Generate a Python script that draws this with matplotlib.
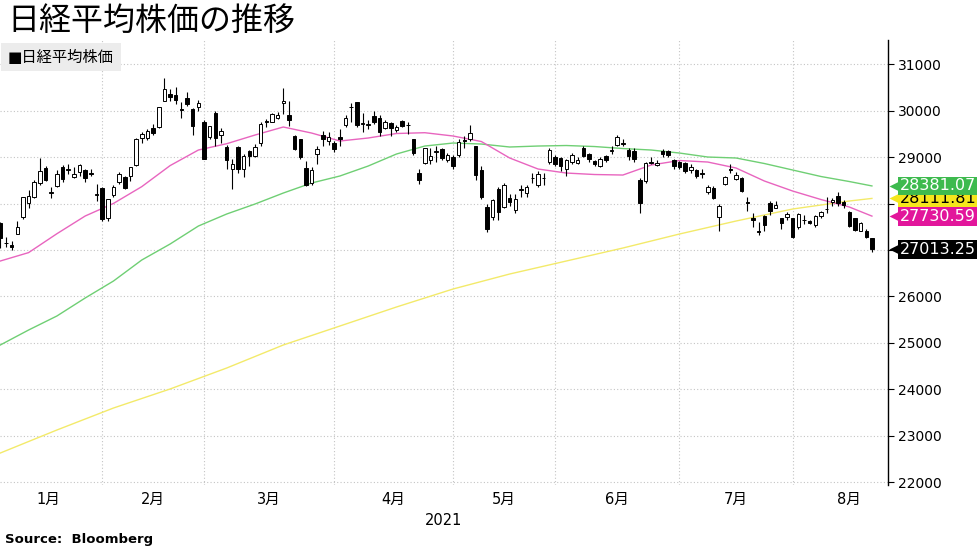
"""日経平均株価の推移 (ローソク足 + 移動平均)"""

import matplotlib
matplotlib.use("Agg")
import matplotlib.pyplot as plt
import matplotlib.transforms as mtransforms
import numpy as np
import pandas as pd

plt.rcParams["font.family"] = ["DejaVu Sans", "Noto Sans CJK JP"]
plt.rcParams["axes.unicode_minus"] = False

# 営業日 (2021/1/4 - 2021/8/20, 東証休場日を除く)
holidays = ["2021-01-11", "2021-02-11", "2021-02-23", "2021-04-29", "2021-05-03",
            "2021-05-04", "2021-05-05", "2021-07-22", "2021-07-23", "2021-08-09"]
dates = pd.bdate_range("2021-01-04", "2021-08-20")
dates = dates[~dates.isin(pd.to_datetime(holidays))]

# 四本値 (チャートから読み取り)
opens = [27575, 27151, 27102, 27340, 27720, 28004, 28140, 28442, 28777, 28238,
         28371, 28790, 28724, 28580, 28690, 28724, 28660, 28190, 28330, 27700,
         28185, 28472, 28567, 28595, 28832, 29407, 29407, 29623, 29657, 30217,
         30362, 30340, 30040, 30282, 30032, 30088, 29765, 29428, 29946, 29478,
         29213, 28739, 29213, 28739, 29133, 29026, 29299, 29790, 29765, 29851,
         30161, 29909, 29457, 29392, 28774, 28437, 29062, 29478, 29355, 29299,
         29442, 29694, 30080, 30196, 29720, 29694, 29880, 29850, 29623, 29730,
         29586, 29779, 29690, 29386, 28666, 28868, 28939, 29110, 29170, 28939,
         28998, 29047, 29370, 29386, 29241, 28724, 27933, 27718, 28308, 27933,
         28120, 27862, 28300, 28222, 28545, 28400, 28560, 28903, 29011, 28976,
         28739, 28903, 28881, 29192, 29062, 28918, 28810, 29026, 29140, 29263,
         29310, 29155, 29140, 28508, 28493, 28903, 28832, 29140, 29140, 28939,
         28903, 28868, 28724, 28724, 28660, 28256, 28330, 27718, 28416, 28740,
         28524, 28545, 28040, 27680, 27400, 27733, 28006, 27912, 27683, 27718,
         27683, 27489, 27650, 27620, 27539, 27733, 27880, 28030, 28164, 28041,
         27825, 27683, 27416, 27416, 27252]
highs = [27602, 27279, 27196, 27624, 28139, 28287, 28503, 28979, 28820, 28349,
         28734, 28830, 28846, 28795, 28852, 28744, 28756, 28415, 28360, 28091,
         28404, 28674, 28600, 28785, 29422, 29540, 29600, 29705, 30084, 30714,
         30467, 30520, 30200, 30400, 30050, 30225, 29800, 29680, 30000, 29640,
         29263, 28969, 29250, 29063, 29150, 29276, 29750, 29822, 29951, 29975,
         30485, 30216, 29482, 29400, 28923, 28779, 29245, 29560, 29539, 29360,
         29600, 29900, 30167, 30200, 29950, 29800, 30000, 29900, 29800, 29750,
         29700, 29800, 29750, 29400, 28750, 29200, 29200, 29250, 29200, 29100,
         29050, 29400, 29450, 29685, 29250, 28800, 28000, 28100, 28350, 28450,
         28200, 28200, 28400, 28400, 28650, 28700, 28650, 29200, 29050, 29000,
         28960, 29100, 29000, 29240, 29100, 28950, 29000, 29050, 29250, 29480,
         29400, 29200, 29200, 28550, 28900, 29011, 28950, 29170, 29160, 28960,
         28920, 28900, 28850, 28750, 28750, 28400, 28370, 28000, 28600, 28852,
         28680, 28580, 28150, 27800, 27600, 27750, 28050, 28050, 27700, 27820,
         27700, 27800, 27750, 27650, 27750, 27850, 28150, 28120, 28250, 28080,
         27850, 27700, 27600, 27450, 27260]
lows = [27042, 27073, 27002, 27340, 27667, 27899, 28126, 28411, 28477, 28111,
        28364, 28467, 28640, 28550, 28600, 28474, 28586, 28050, 27629, 27630,
        28150, 28412, 28310, 28482, 28800, 29312, 29380, 29477, 29640, 30207,
        30211, 30150, 29850, 30100, 29479, 30000, 28955, 29400, 29250, 29300,
        28750, 28308, 28650, 28565, 28803, 29000, 29250, 29643, 29750, 29817,
        29940, 29667, 29149, 28960, 28379, 28400, 28855, 29244, 29272, 29112,
        29250, 29650, 29750, 29650, 29550, 29600, 29720, 29450, 29600, 29450,
        29550, 29650, 29500, 29050, 28420, 28850, 28850, 28900, 28950, 28900,
        28750, 29000, 29200, 29350, 28500, 28100, 27385, 27650, 27650, 27900,
        27950, 27800, 28150, 28150, 28450, 28350, 28400, 28850, 28800, 28700,
        28600, 28850, 28850, 29000, 28900, 28800, 28780, 28900, 29080, 29250,
        29250, 28950, 28900, 27795, 28450, 28850, 28800, 29000, 29000, 28750,
        28750, 28650, 28650, 28550, 28550, 28200, 28100, 27419, 28400, 28650,
        28500, 28250, 27850, 27500, 27330, 27400, 27750, 27900, 27450, 27650,
        27250, 27450, 27550, 27550, 27500, 27700, 27800, 27950, 27950, 27900,
        27500, 27400, 27400, 27250, 26954]
closes = [27258, 27158, 27055, 27490, 28139, 28164, 28456, 28698, 28519, 28242,
          28633, 28523, 28756, 28631, 28822, 28546, 28635, 28197, 27663, 28091,
          28362, 28646, 28341, 28779, 29388, 29505, 29562, 29520, 30084, 30467,
          30292, 30236, 30017, 30156, 29671, 30168, 28966, 29663, 29408, 29559,
          28930, 28864, 28743, 29027, 29036, 29211, 29717, 29766, 29921, 29914,
          30216, 29792, 29174, 28995, 28405, 28729, 29176, 29384, 29432, 29178,
          29388, 29854, 30089, 29696, 29730, 29708, 29768, 29549, 29751, 29620,
          29642, 29683, 29685, 29100, 28508, 29188, 29020, 29126, 28991, 29053,
          28812, 29331, 29357, 29518, 28608, 28147, 27448, 28084, 27824, 28406,
          28044, 28098, 28317, 28364, 28553, 28642, 28549, 29149, 28860, 28814,
          28946, 29058, 28941, 29019, 28963, 28860, 28958, 28948, 29161, 29441,
          29291, 29018, 28964, 28010, 28884, 28874, 28875, 29066, 29048, 28812,
          28791, 28707, 28783, 28598, 28643, 28366, 28118, 27940, 28569, 28718,
          28608, 28279, 28003, 27652, 27388, 27548, 27833, 27970, 27581, 27782,
          27283, 27781, 27641, 27584, 27728, 27820, 27888, 28070, 28015, 27977,
          27523, 27424, 27585, 27281, 27013]

# 移動平均線 (チャートから読み取り, 営業日インデックス毎)
ma_days_5 = list(range(0, 151, 5)) + [154]
ma25 = [26763, 26944, 27351, 27733, 28004, 28366, 28819, 29155, 29291, 29478,
        29651, 29521, 29349, 29414, 29511, 29528, 29457, 29338, 28983, 28746,
        28659, 28627, 28616, 28832, 28929, 28896, 28767, 28487, 28271, 28088,
        27927, 27731]
ma75 = [24953, 25276, 25578, 25966, 26332, 26785, 27129, 27517, 27776, 27991,
        28228, 28444, 28595, 28810, 29069, 29241, 29306, 29284, 29220, 29241,
        29252, 29230, 29187, 29155, 29090, 29004, 28983, 28864, 28724, 28584,
        28476, 28381]
ma_days_10 = list(range(0, 151, 10)) + [154]
ma200 = [22625, 23121, 23595, 24005, 24457, 24953, 25362, 25772, 26160, 26483,
         26763, 27043, 27345, 27625, 27884, 28056, 28112]

last_labels = [("28111.81", 28111.81, "#f5e61c", "black"),
               ("28381.07", 28381.07, "#3dba4e", "white"),
               ("27730.59", 27730.59, "#e2169b", "white"),
               ("27013.25", 27013.25, "black", "white")]

month_names = ["1月", "2月", "3月", "4月", "5月", "6月", "7月", "8月"]

fig = plt.figure(figsize=(9.77, 5.49), dpi=100)
ax = fig.add_axes([0, 1 - 485 / 549, 888 / 977, 445 / 549])

x = np.arange(len(dates))
o = np.array(opens, float)
c = np.array(closes, float)
h = np.array(highs, float)
l = np.array(lows, float)

# 移動平均線
ax.plot(ma_days_10, ma200, color="#f3ea6a", lw=1.0, zorder=2)
ax.plot(ma_days_5, ma75, color="#6fcf74", lw=1.0, zorder=2)
ax.plot(ma_days_5, ma25, color="#e865bf", lw=1.0, zorder=2)

# ローソク足
up = c >= o
ax.vlines(x, l, h, color="black", lw=0.8, zorder=3)
body = np.maximum(np.abs(c - o), 8)
ax.bar(x, body, bottom=np.minimum(o, c), width=0.62,
       color=np.where(up, "white", "black"), edgecolor="black", lw=0.7, zorder=4)

# 月境界 (月末営業日) とラベル位置
month = dates.month.values
bounds = [-1] + [int(np.where(month == m)[0][0]) - 1 for m in range(2, 9)] + [160]
centers = [(bounds[k] + bounds[k + 1]) / 2 for k in range(8)]

ax.set_xlim(-0.05, 156.84)
ax.set_ylim(21936, 31526)

ax.set_xticks(bounds[1:-1], minor=True)
ax.set_xticks(centers)
ax.set_xticklabels(month_names, fontsize=10.5)
ax.tick_params(axis="x", which="both", length=0, pad=5)
ax.xaxis.grid(True, which="minor", ls=(0, (1, 2)), color="#c4c4c4", lw=0.8)

ax.yaxis.tick_right()
ax.set_yticks(range(22000, 31001, 1000))
ax.tick_params(axis="y", direction="out", length=4, width=0.8, labelsize=10, pad=3)
ax.yaxis.grid(True, ls=(0, (1, 2)), color="#c4c4c4", lw=0.8)
ax.set_axisbelow(True)

for side in ["top", "left", "bottom"]:
    ax.spines[side].set_visible(False)
ax.spines["right"].set_linewidth(1.0)

# 最新値ラベル
trans = mtransforms.blended_transform_factory(ax.transAxes, ax.transData)
for txt, val, fc, tc in last_labels:
    ax.plot([1 + 8 / 888], [val], marker="<", ms=10, color=fc, mec="none",
            transform=trans, clip_on=False, zorder=5)
    ax.text(1 + 12 / 888, val, txt, transform=trans, fontsize=11.5, color=tc,
            va="center", ha="left", zorder=6,
            bbox=dict(boxstyle="square,pad=0.12", fc=fc, ec="none"))

ax.text(0.5, -0.08, "2021", transform=ax.transAxes, ha="center", va="center",
        fontsize=10.5)

# タイトル・凡例・出典
fig.text(7 / 977, 1 - 21 / 549, "日経平均株価の推移", fontsize=23, va="center",
         family=["Noto Sans CJK JP"])
fig.text(8 / 977, 1 - 57 / 549, "■日経平均株価", fontsize=11, va="center",
         bbox=dict(boxstyle="square,pad=0.45", fc="#ececec", ec="none"))
fig.text(5 / 977, 1 - 540 / 549, "Source:  Bloomberg", fontsize=9.5,
         fontweight="bold", va="center")

fig.savefig("out.png", dpi=100, facecolor="white")
plt.close(fig)
